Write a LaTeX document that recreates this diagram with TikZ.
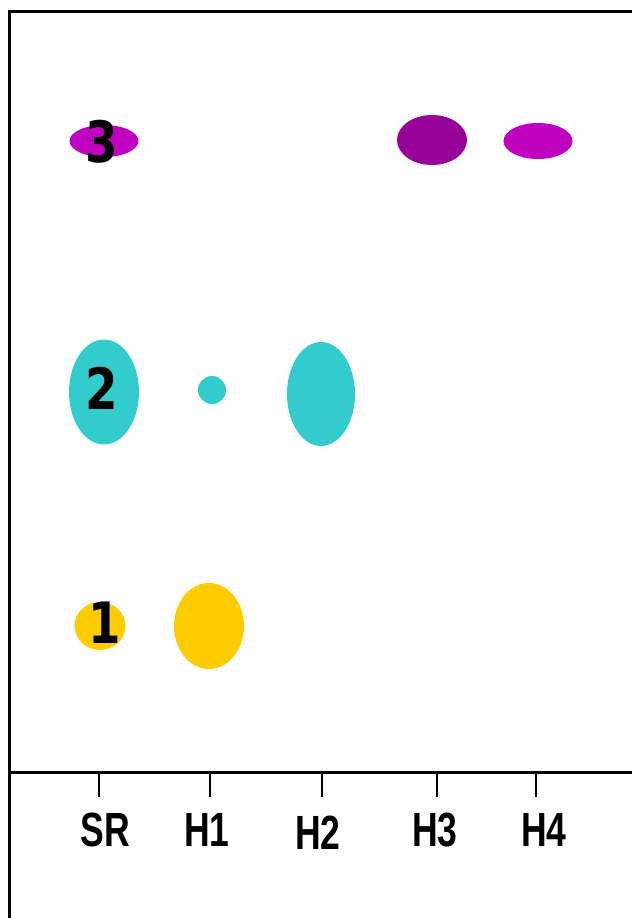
\documentclass[tikz,border=0pt]{standalone}
\usepackage{fontspec}
\setmainfont{Liberation Sans}
\newfontfamily\digitfont{DejaVu Sans}
\usepackage{xcolor}
\usepackage{tikz}
\usetikzlibrary{shapes.geometric}

\definecolor{giallo}{HTML}{FFCC00}
\definecolor{ciano}{HTML}{33CCCC}
\definecolor{viola}{HTML}{990099}
\definecolor{magenta2}{HTML}{C000C0}

\newcommand{\corsia}[1]{\scalebox{0.74}[1]{#1}}
\newcommand{\cifra}[1]{\scalebox{0.82}[1]{#1}}

\tikzset{
  macchia/.style={ellipse, inner sep=0pt, outer sep=0pt},
  numero/.style={font=\digitfont\bfseries\fontsize{57}{60}\selectfont, inner sep=0pt},
  etichetta/.style={font=\bfseries\fontsize{48}{52}\selectfont, inner sep=0pt},
}

\begin{document}
\begin{tikzpicture}[x=1pt, y=-1pt]
        \useasboundingbox (0,0) rectangle (632,918);

        % Cornice e linea di base
        \draw[line width=3pt] (632,11) -- (9,11) -- (9,918);
        \draw[line width=3pt] (9,772) -- (632,772);

        % Macchie riga 1
        \node[macchia, fill=giallo, minimum width=51, minimum height=48] (sr1) at (100,626) {};
        \node[macchia, fill=giallo, minimum width=70, minimum height=86] (hu1) at (209,626) {};

        % Macchie riga 2
        \node[macchia, fill=ciano, minimum width=70, minimum height=105] (sr2) at (104,392) {};
        \node[macchia, fill=ciano, minimum width=28, minimum height=28] (hu2) at (212,390) {};
        \node[macchia, fill=ciano, minimum width=68, minimum height=104] (hd2) at (321,394) {};

        % Macchie riga 3
        \node[macchia, fill=magenta2, minimum width=69, minimum height=32] (sr3) at (104,141) {};
        \node[macchia, fill=viola, minimum width=70, minimum height=50] (ht3) at (432,140) {};
        \node[macchia, fill=magenta2, minimum width=69, minimum height=36] (hq3) at (538,141) {};

        % Numeri
        \node[numero] (n1) at (105,623) {\cifra{1}};
        \node[numero] (n2) at (102,388) {\cifra{2}};
        \node[numero] (n3) at (102,142) {\cifra{3}};

        % Tacche
        \coordinate (tSR) at (99,774);
        \coordinate (tH1) at (210,774);
        \coordinate (tH2) at (322,774);
        \coordinate (tH3) at (437,774);
        \coordinate (tH4) at (536,774);
        \draw[line width=2pt] (tSR) -- ++(0,23);
        \draw[line width=2pt] (tH1) -- ++(0,23);
        \draw[line width=2pt] (tH2) -- ++(0,23);
        \draw[line width=2pt] (tH3) -- ++(0,23);
        \draw[line width=2pt] (tH4) -- ++(0,23);

        % Etichette
        \node[etichetta] (lSR) at (105,830) {\corsia{SR}};
        \node[etichetta] (lH1) at (207,830) {\corsia{H1}};
        \node[etichetta] (lH2) at (318,833) {\corsia{H2}};
        \node[etichetta] (lH3) at (435,830) {\corsia{H3}};
        \node[etichetta] (lH4) at (544,830) {\corsia{H4}};
    \end{tikzpicture}
\end{document}
